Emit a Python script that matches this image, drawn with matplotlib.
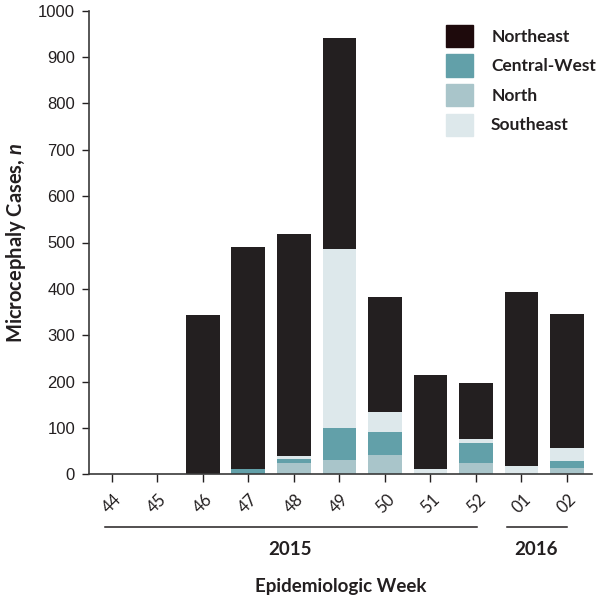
import matplotlib
matplotlib.use('Agg')
from matplotlib import pyplot as plt
from matplotlib.patches import Patch
import numpy as np

weeks = ['44', '45', '46', '47', '48', '49', '50', '51', '52', '01', '02']
north = [0, 0, 0, 0, 24, 31, 42, 0, 25, 0, 14]
central_west = [0, 0, 0, 11, 8, 68, 50, 0, 42, 0, 15]
southeast = [0, 0, 0, 0, 8, 387, 43, 11, 9, 18, 27]
northeast = [0, 0, 344, 479, 479, 456, 248, 203, 122, 375, 290]

years = ['2015', '2016']
year_spans = [(-0.15, 8.02), (8.68, 10.0)]
year_centers = [3.92, 9.33]

c_ne = '#231f20'
c_cw = '#62a0a9'
c_n = '#a9c5ca'
c_se = '#dde8eb'

plt.rcParams['mathtext.fontset'] = 'custom'
plt.rcParams['mathtext.it'] = 'Lato:italic:bold'
plt.rcParams['mathtext.rm'] = 'Lato:bold'

fig = plt.figure(figsize=(6.04, 6.03), dpi=100)
ax = fig.add_axes([89 / 604, 1 - 474.3 / 603, 503 / 604, 463.6 / 603])

x = np.arange(len(weeks))
w = 0.74
b1 = np.array(north)
b2 = b1 + np.array(central_west)
b3 = b2 + np.array(southeast)
ax.bar(x, north, w, color=c_n)
ax.bar(x, central_west, w, bottom=b1, color=c_cw)
ax.bar(x, southeast, w, bottom=b2, color=c_se)
ax.bar(x, northeast, w, bottom=b3, color=c_ne)

ax.set_xlim(-0.5, 10.55)
ax.set_ylim(0, 1000)
ax.set_yticks(range(0, 1001, 100))
ax.set_xticks(x)
ax.set_xticklabels(weeks, rotation=45, ha='center', fontsize=12,
                   family='Lato', color='#231f20')
for lab in ax.get_yticklabels():
    lab.set_family('Liberation Sans')
ax.tick_params(axis='y', labelsize=12, length=5, width=1, pad=5,
               colors='#231f20')
ax.tick_params(axis='x', length=6, width=1, pad=6, colors='#231f20')

for s in ['top', 'right']:
    ax.spines[s].set_visible(False)
for s in ['left', 'bottom']:
    ax.spines[s].set_linewidth(1.2)
    ax.spines[s].set_color('#3a3a3a')

ax.set_ylabel('Microcephaly Cases, $\\it{n}$', fontsize=14.5,
              family='Lato', weight='bold', color='#231f20')
ax.yaxis.set_label_coords(-0.122, 0.5)

# year brackets under the week labels
tr = ax.get_xaxis_transform()
for yr, (x0, x1), xc in zip(years, year_spans, year_centers):
    ax.plot([x0, x1], [-0.1135, -0.1135], transform=tr, color='#231f20',
            lw=1.1, clip_on=False)
    ax.text(xc, -0.162, yr, transform=tr, ha='center', va='center',
            fontsize=13.5, family='Lato', weight='bold', color='#231f20')

ax.text(0.5, -0.243, 'Epidemiologic Week', transform=ax.transAxes,
        ha='center', va='center', fontsize=13.5, family='Lato',
        weight='bold', color='#231f20')

handles = [Patch(color='#1e0a0c', label='Northeast'),
           Patch(color=c_cw, label='Central-West'),
           Patch(color=c_n, label='North'),
           Patch(color=c_se, label='Southeast')]
leg = ax.legend(handles=handles, loc='upper left',
                bbox_to_anchor=(446 / 604, 1 - 24.7 / 603),
                bbox_transform=fig.transFigure, frameon=False,
                borderaxespad=0, borderpad=0, handlelength=1.55,
                handleheight=1.6, labelspacing=0.42, handletextpad=1.05,
                prop={'family': 'Lato', 'weight': 'bold', 'size': 12.5})
for t in leg.get_texts():
    t.set_color('#231f20')

fig.savefig('out.png', dpi=100)
